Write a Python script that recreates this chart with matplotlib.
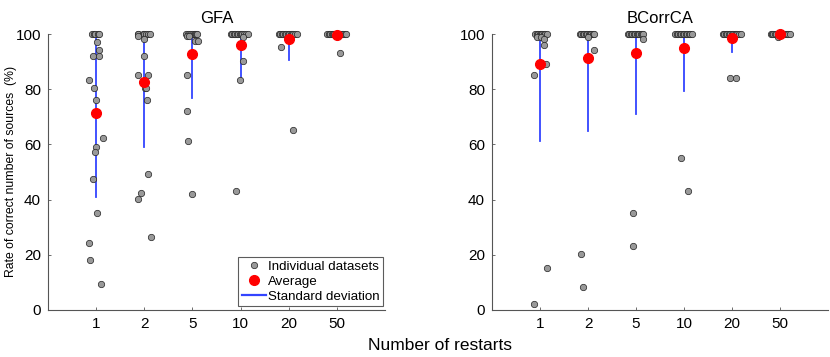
import matplotlib
matplotlib.use("Agg")
import matplotlib.pyplot as plt
from matplotlib.lines import Line2D

plt.rcParams['font.family'] = ['Liberation Sans', 'DejaVu Sans']

restarts = ["1", "2", "5", "10", "20", "50"]
titles = ["GFA", "BCorrCA"]

# ---- GFA individual datasets (value, jitter offset) ----
gfa_vals = [
    [100, 100, 100, 100, 100, 97.2, 94.2, 92.1, 92.1, 83.2, 80.3, 76.2, 62.2, 59.2, 57.4, 47.3, 35.3, 24.1, 18.2, 9.3],
    [100, 100, 100, 100, 100, 100, 100, 99.3, 98.2, 92.1, 85.3, 85.3, 80.3, 80.3, 76.2, 49.2, 42.3, 40.2, 26.3],
    [100, 100, 100, 100, 100, 100, 100, 100, 99.3, 99.3, 97.5, 97.5, 85.1, 72.1, 61.2, 42.2],
    [100, 100, 100, 100, 100, 100, 100, 100, 100, 100, 100, 100, 99.0, 90.3, 83.2, 43.0],
    [100, 100, 100, 100, 100, 100, 100, 100, 100, 100, 100, 100, 100, 95.2, 65.2],
    [100, 100, 100, 100, 100, 100, 100, 100, 100, 100, 100, 100, 100, 100, 93.2],
]
gfa_jit = [
    [-0.09, -0.05, -0.02, 0.03, 0.06, 0.02, 0.07, -0.07, 0.06, -0.14, -0.035, 0.0, 0.146, 0.0, -0.015, -0.07, 0.02, -0.14, -0.12, 0.11],
    [-0.14, -0.12, -0.03, 0.0, 0.04, 0.08, 0.12, -0.12, -0.01, 0.0, -0.14, 0.07, 0.02, 0.04, 0.055, 0.07, -0.06, -0.12, 0.146],
    [-0.13, -0.1, -0.06, 0.0, 0.03, 0.05, 0.07, 0.1, -0.12, -0.08, 0.05, 0.11, -0.11, -0.11, -0.10, 0.0],
    [-0.2, -0.17, -0.14, -0.11, -0.08, -0.05, -0.02, 0.01, 0.04, 0.08, 0.11, 0.15, 0.06, 0.05, -0.02, -0.1],
    [-0.2, -0.17, -0.14, -0.11, -0.08, -0.05, -0.02, 0.01, 0.04, 0.07, 0.1, 0.13, 0.17, -0.15, 0.08],
    [-0.2, -0.17, -0.14, -0.11, -0.08, -0.05, -0.02, 0.01, 0.04, 0.07, 0.1, 0.13, 0.17, 0.2, 0.06],
]
gfa_mean = [71.5, 82.7, 92.6, 96.0, 98.2, 99.7]
gfa_std = [30.4, 23.8, 15.7, 12.5, 7.6, 1.0]

# ---- BCorrCA individual datasets ----
bca_vals = [
    [100, 100, 100, 100, 100, 100, 100, 100, 100, 99, 99, 98.2, 96, 89.1, 85.1, 15.1, 2.3],
    [100, 100, 100, 100, 100, 100, 100, 100, 100, 100, 100, 99, 94.2, 20.2, 8.2],
    [100, 100, 100, 100, 100, 100, 100, 100, 100, 100, 100, 100, 98.2, 35.3, 23.2],
    [100, 100, 100, 100, 100, 100, 100, 100, 100, 100, 100, 100, 55.2, 43.2],
    [100, 100, 100, 100, 100, 100, 100, 100, 100, 100, 100, 100, 100, 84.2, 84.2],
    [100, 100, 100, 100, 100, 100, 100, 100, 100, 100, 100, 100, 100, 100, 99],
]
bca_jit = [
    [-0.1, -0.07, -0.04, -0.01, 0.02, 0.05, 0.08, 0.11, 0.15, -0.07, 0.01, 0.09, 0.08, 0.12, -0.12, 0.14, -0.12],
    [-0.17, -0.14, -0.11, -0.08, -0.05, -0.02, 0.01, 0.04, 0.07, 0.1, 0.13, 0.0, 0.125, -0.15, -0.11],
    [-0.17, -0.14, -0.11, -0.08, -0.05, -0.02, 0.01, 0.04, 0.07, 0.1, 0.13, 0.15, 0.14, -0.06, -0.06],
    [-0.18, -0.15, -0.12, -0.09, -0.06, -0.03, 0.0, 0.03, 0.06, 0.1, 0.13, 0.17, -0.07, 0.08],
    [-0.19, -0.16, -0.13, -0.1, -0.07, -0.04, -0.01, 0.02, 0.05, 0.08, 0.11, 0.15, 0.19, -0.035, 0.09],
    [-0.2, -0.17, -0.14, -0.11, -0.08, -0.05, -0.02, 0.01, 0.04, 0.07, 0.1, 0.14, 0.17, 0.2, -0.04],
]
bca_mean = [89.1, 91.2, 93.0, 95.0, 98.7, 100.0]
bca_std = [27.7, 26.3, 22.0, 15.7, 5.1, 0.0]

panels = [(gfa_vals, gfa_jit, gfa_mean, gfa_std), (bca_vals, bca_jit, bca_mean, bca_std)]

fig = plt.figure(figsize=(8.3, 3.57), dpi=100)
axes = [fig.add_axes([0.0578, 0.1317, 0.406, 0.773]),
        fig.add_axes([0.5928, 0.1317, 0.405, 0.773])]

blue = '#3344ff'
gray_pt = '#999999'
spine_c = '#555555'
pt_ms = 4.6
mean_ms = 7

for ax, title, (vals, jits, means, stds) in zip(axes, titles, panels):
    for i, (vv, jj) in enumerate(zip(vals, jits)):
        pos = i + 1
        lo = means[i] - stds[i]
        hi = min(means[i] + stds[i], 100)
        ax.plot([pos, pos], [lo, hi], color=blue, lw=1.3, zorder=2, clip_on=False)
        ax.plot([pos + j for j in jj], vv, 'o', ms=pt_ms, mfc=gray_pt, mec='#222222',
                mew=0.5, zorder=3, clip_on=False, ls='none')
        ax.plot([pos], [means[i]], 'o', ms=mean_ms, mfc='#ff0000', mec='#ff0000', zorder=4, clip_on=False)
    ax.set_xlim(0, 7)
    ax.set_ylim(0, 100)
    ax.set_xticks(range(1, 7))
    ax.set_xticklabels(restarts)
    ax.set_yticks(range(0, 101, 20))
    ax.tick_params(direction='in', length=2.5, width=0.6, color=spine_c, labelsize=11, pad=5)
    for s in ['top', 'right']:
        ax.spines[s].set_visible(False)
    for s in ['left', 'bottom']:
        ax.spines[s].set_color(spine_c)
        ax.spines[s].set_linewidth(0.8)
    ax.set_title(title, fontsize=12, pad=8)

fig.text(0.013, 0.52, "Rate of correct number of sources  (%)", rotation=90,
         ha='center', va='center', fontsize=8.8)
fig.text(0.53, 0.031, "Number of restarts", ha='center', va='center', fontsize=12.5)

handles = [
    Line2D([], [], marker='o', ls='none', ms=pt_ms, mfc=gray_pt, mec='#222222', mew=0.5),
    Line2D([], [], marker='o', ls='none', ms=mean_ms, mfc='#ff0000', mec='#ff0000'),
    Line2D([], [], color=blue, lw=1.6),
]
leg = axes[0].legend(handles, ["Individual datasets", "Average", "Standard deviation"],
                     loc='lower right', bbox_to_anchor=(0.995, 0.015), fontsize=9.6,
                     frameon=True, fancybox=False, handlelength=1.8, handletextpad=0.2,
                     borderpad=0.25, labelspacing=0.2, borderaxespad=0.0)
leg.get_frame().set_edgecolor('#333333')
leg.get_frame().set_linewidth(0.8)

fig.savefig("out.png", dpi=100)
